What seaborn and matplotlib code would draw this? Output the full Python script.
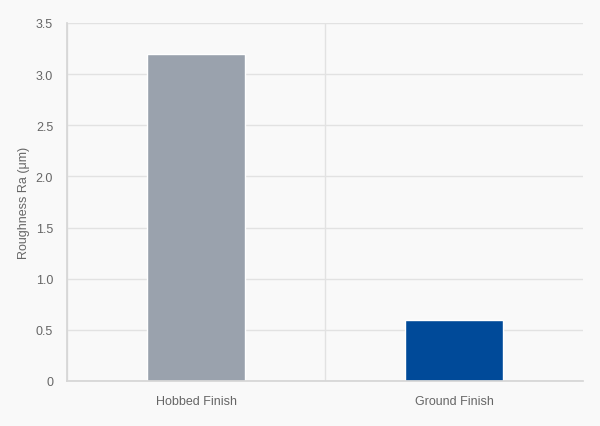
import numpy as np
import pandas as pd
import seaborn as sns
import matplotlib.pyplot as plt
from matplotlib.ticker import FixedLocator

categories = ['Hobbed Finish', 'Ground Finish']
roughness = [3.2, 0.6]
bar_colors = ['#9aa2ad', '#004a99']
y_ticks = [0, 0.5, 1.0, 1.5, 2.0, 2.5, 3.0, 3.5]
y_tick_labels = ['0', '0.5', '1.0', '1.5', '2.0', '2.5', '3.0', '3.5']

df = pd.DataFrame({'finish': categories, 'ra': roughness})

sns.set_theme(style='white')
plt.rcParams['font.family'] = ['Liberation Sans', 'DejaVu Sans']

bg = '#f9f9f9'
grid_c = '#e2e2e2'
text_c = '#666666'

fig = plt.figure(figsize=(6, 4.27), dpi=100, facecolor=bg)
ax = fig.add_axes([0.1117, 0.1054, 0.86, 0.8384], facecolor=bg)

sns.barplot(data=df, x='finish', y='ra', hue='finish', palette=bar_colors,
            width=0.38, legend=False, ax=ax, saturation=1)

ax.set_ylim(0, 3.5)
ax.set_xlim(-0.5, 1.5)
ax.set_yticks(y_ticks)
ax.set_yticklabels(y_tick_labels)
# category boundaries (the right end has no line in the reference)
ax.xaxis.set_minor_locator(FixedLocator([-0.5, 0.5]))

ax.grid(axis='y', color=grid_c, linewidth=1)
ax.grid(axis='x', which='minor', color=grid_c, linewidth=1)
ax.set_axisbelow(True)

for s in ['top', 'right']:
    ax.spines[s].set_visible(False)
ax.spines['left'].set_color('#d6d6d6')
ax.spines['bottom'].set_color('#d6d6d6')

ax.tick_params(axis='y', length=7, color=grid_c, labelcolor=text_c, labelsize=9, pad=3)
ax.tick_params(axis='x', which='major', length=0, labelcolor=text_c, labelsize=9, pad=10)
ax.tick_params(axis='x', which='minor', length=7, color=grid_c)

ax.set_xlabel('')
ax.set_ylabel('Roughness Ra (μm)', color=text_c, fontsize=9)
ax.yaxis.set_label_coords(-0.072, 0.5)

fig.savefig('out.png', dpi=100, facecolor=bg)
